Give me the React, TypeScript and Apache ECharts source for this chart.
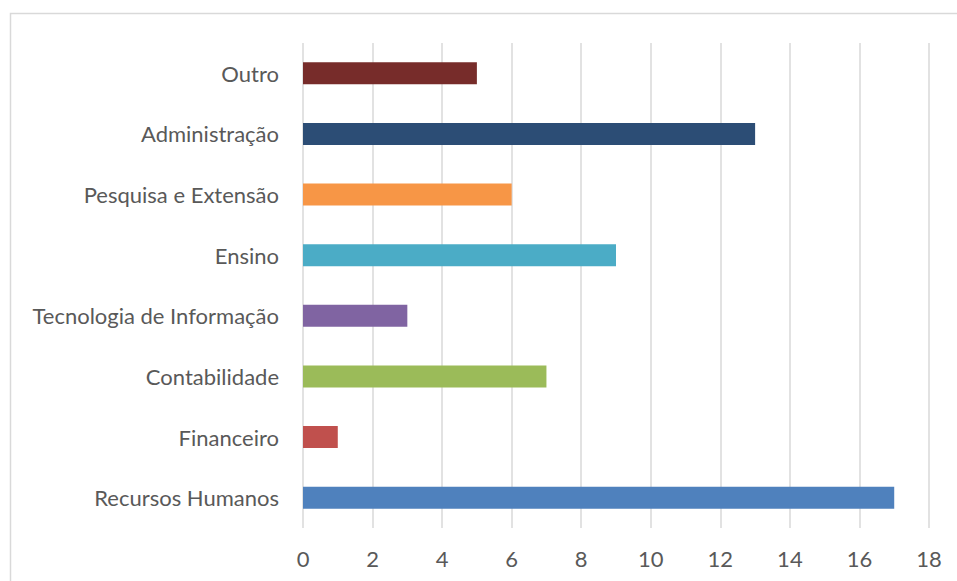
import React, { useEffect, useRef } from "react";
import * as echarts from "echarts";

const categories = [
  "Recursos Humanos",
  "Financeiro",
  "Contabilidade",
  "Tecnologia de Informação",
  "Ensino",
  "Pesquisa e Extensão",
  "Administração",
  "Outro",
];
const values = [17, 1, 7, 3, 9, 6, 13, 5];
const barColors = [
  "#4F81BD",
  "#C0504D",
  "#9BBB59",
  "#8064A2",
  "#4BACC6",
  "#F79646",
  "#2C4D75",
  "#772C2A",
];
const xMin = 0;
const xMax = 18;
const xInterval = 2;

export default function App() {
  const ref = useRef<HTMLDivElement>(null);
  useEffect(() => {
    if (!ref.current) return;
    const chart = echarts.init(ref.current, null, { renderer: "svg" });
    const font = "Lato, 'Open Sans', sans-serif";
    chart.setOption({
      animation: false,
      backgroundColor: "#ffffff",
      graphic: [
        {
          type: "rect",
          shape: { x: 10.5, y: 13.5, width: 960, height: 600 },
          style: { fill: "none", stroke: "#d9d9d9", lineWidth: 1.5 },
          silent: true,
        },
      ],
      grid: { left: 303, right: 28, top: 43, bottom: 53, containLabel: false },
      xAxis: {
        type: "value",
        min: xMin,
        max: xMax,
        interval: xInterval,
        axisLine: { show: false },
        axisTick: { show: false },
        splitLine: { show: true, lineStyle: { color: "#d9d9d9", width: 1.5 } },
        axisLabel: {
          color: "#595959",
          fontSize: 22,
          fontFamily: font,
          margin: 19,
        },
      },
      yAxis: {
        type: "category",
        data: categories,
        axisLine: { show: false },
        axisTick: { show: false },
        axisLabel: {
          color: "#595959",
          fontSize: 22,
          fontFamily: font,
          margin: 24,
        },
      },
      series: [
        {
          type: "bar",
          data: values.map((v, i) => ({ value: v, itemStyle: { color: barColors[i] } })),
          barWidth: 22,
        },
      ],
    });
    return () => chart.dispose();
  }, []);
  return (
    <div
      ref={ref}
      style={{ position: "fixed", left: 0, top: 0, width: 957, height: 581 }}
    />
  );
}
